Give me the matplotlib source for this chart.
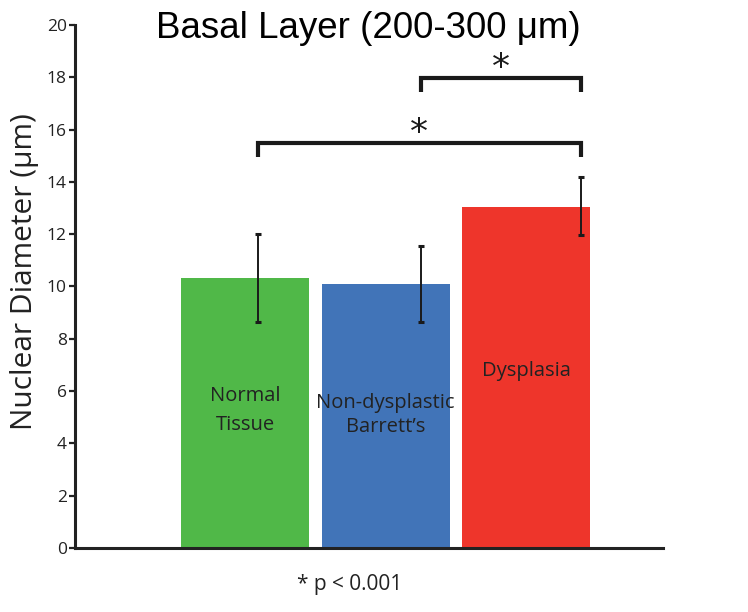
import matplotlib
matplotlib.use("Agg")
import matplotlib.pyplot as plt

categories = ["Normal\nTissue", "Non-dysplastic\nBarrett\u2019s", "Dysplasia"]
means = [10.34, 10.10, 13.05]
err_low = [8.65, 8.65, 11.98]
err_high = [12.0, 11.55, 14.2]
colors = ["#50b848", "#4174b8", "#ee352b"]
yticks = [0, 2, 4, 6, 8, 10, 12, 14, 16, 18, 20]
# significance brackets: (bar i, bar j, height, leg drop)
brackets = [(0, 2, 15.48, 0.53), (1, 2, 17.97, 0.52)]
footnote = "* p < 0.001"
title = "Basal Layer (200-300 \u03bcm)"
ylabel = "Nuclear Diameter (\u03bcm)"

# layout/style: baselines (data units) of each line of the in-bar labels
label_baselines = [[5.62, 4.51], [5.36, 4.45], [6.58]]
# horizontal offset of error-bar whiskers from bar centres (as in the original)
eb_offset = [0.093, 0.249, 0.389]
star_y_offset = 0.38

fig = plt.figure(figsize=(7.48, 6.12), dpi=100)
ax = fig.add_axes([0.1003, 0.1046, 0.7861, 0.8546])

x = list(range(len(categories)))
ax.bar(x, means, width=0.911, color=colors, zorder=2)

ex = [xi + o for xi, o in zip(x, eb_offset)]
lower = [m - l for m, l in zip(means, err_low)]
upper = [h - m for m, h in zip(means, err_high)]
ax.errorbar(ex, means, yerr=[lower, upper], fmt="none", ecolor="#1a1a1a",
            elinewidth=1.4, capsize=2.5, capthick=2.2, zorder=3)

for xi, bl, lab in zip(x, label_baselines, categories):
    for line, yb in zip(lab.split("\n"), bl):
        ax.text(xi, yb, line, ha="center", va="baseline", fontsize=14.5,
                color="#222222", family="Open Sans", zorder=4)

for i, j, h, d in brackets:
    xa, xb = ex[i], ex[j]
    ax.plot([xa, xa, xb, xb], [h - d, h, h, h - d], color="#1a1a1a", lw=3,
            solid_joinstyle="miter", solid_capstyle="butt", zorder=3)
    ax.text((xa + xb) / 2, h + star_y_offset, "*", ha="center", va="center",
            fontsize=26, color="#1a1a1a", family="DejaVu Sans")

ax.set_xlim(-1.21, 2.975)
ax.set_ylim(0, 20)
ax.set_yticks(yticks)
ax.set_xticks([])
for s in ["top", "right"]:
    ax.spines[s].set_visible(False)
ax.spines["left"].set_linewidth(2.2)
ax.spines["bottom"].set_linewidth(2.2)
ax.spines["left"].set_color("#222222")
ax.spines["bottom"].set_color("#222222")
ax.tick_params(axis="y", direction="out", length=4, width=1.6, colors="#222222",
               labelsize=12.5, pad=2)
for t in ax.get_yticklabels():
    t.set_family("Open Sans")

fig.text(0.492, 0.953, title, ha="center", va="center", fontsize=26.5,
         family="Liberation Sans", color="black")
fig.text(0.033, 0.557, ylabel, ha="center", va="center", rotation=90,
         fontsize=21.5, family="Open Sans", color="#222222")
fig.text(0.468, 0.045, footnote, ha="center", va="center", fontsize=15,
         family="Open Sans", color="#222222")

fig.savefig("out.png", dpi=100)
